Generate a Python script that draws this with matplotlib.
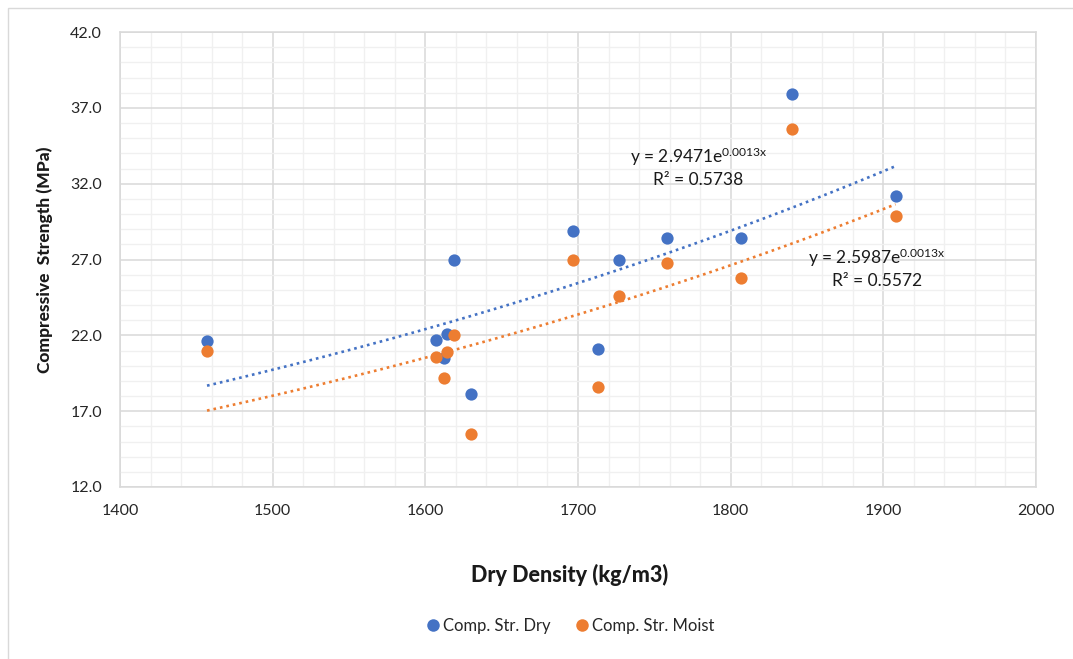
import numpy as np
import matplotlib
matplotlib.use("Agg")
import matplotlib.pyplot as plt
from matplotlib.lines import Line2D
from matplotlib.patches import Rectangle
from matplotlib.ticker import MultipleLocator, FixedLocator

plt.rcParams['font.family'] = ['Lato', 'DejaVu Sans']
plt.rcParams['mathtext.fontset'] = 'custom'
plt.rcParams['mathtext.rm'] = 'Lato'
plt.rcParams['mathtext.it'] = 'Lato:italic'

# data
dry_density = [1457, 1607, 1612, 1614, 1619, 1630, 1697, 1713, 1727, 1758, 1807, 1840, 1908]
comp_str_dry = [21.6, 21.7, 20.5, 22.1, 27.0, 18.1, 28.9, 21.1, 27.0, 28.4, 28.4, 37.9, 31.2]
comp_str_moist = [21.0, 20.6, 19.2, 20.9, 22.0, 15.5, 27.0, 18.6, 24.6, 26.8, 25.8, 35.6, 29.9]

series_names = ["Comp. Str. Dry", "Comp. Str. Moist"]
series_colors = ["#4472C4", "#ED7D31"]
trend_labels = ["y = 2.9471e$^{\\mathrm{0.0013x}}$\nR² = 0.5738",
                "y = 2.5987e$^{\\mathrm{0.0013x}}$\nR² = 0.5572"]
label_pos = [(1779, 33.1), (1896, 26.45)]
y_ticks = [12, 17, 22, 27, 32, 37, 42]


def exp_trend(x, y):
    # exponential fit, same as the spreadsheet trendline
    b, ln_a = np.polyfit(x, np.log(y), 1)
    xs = np.linspace(min(x), max(x), 100)
    return xs, np.exp(ln_a) * np.exp(b * xs)


fig = plt.figure(figsize=(10.73, 6.59), dpi=100)
ax = fig.add_axes([120 / 1073, 1 - 487 / 659, (1036 - 120) / 1073, (487 - 32) / 659])

x = np.array(dry_density, dtype=float)
for ys, name, color in zip([comp_str_dry, comp_str_moist], series_names, series_colors):
    ax.scatter(x, ys, s=78, color=color, zorder=4, linewidths=0)
    xs, yt = exp_trend(x, np.array(ys))
    ax.plot(xs, yt, color=color, lw=1.9, linestyle=(0, (1, 1.5)), zorder=3)

for txt, (tx, ty) in zip(trend_labels, label_pos):
    ax.text(tx, ty, txt, ha='center', va='center', multialignment='center',
            fontsize=12.5, color='#1a1a1a', linespacing=1.3, zorder=5)

ax.set_xlim(1400, 2000)
ax.set_ylim(12, 42)
ax.xaxis.set_major_locator(MultipleLocator(100))
ax.xaxis.set_minor_locator(MultipleLocator(20))
ax.yaxis.set_major_locator(FixedLocator(y_ticks))
ax.yaxis.set_minor_locator(MultipleLocator(1))
ax.yaxis.set_major_formatter(plt.FormatStrFormatter('%.1f'))

ax.grid(which='major', color='#D9D9D9', lw=1.1)
ax.grid(which='minor', color='#F0F0F0', lw=1.0)
ax.set_axisbelow(True)
for sp in ax.spines.values():
    sp.set_color('#D9D9D9')
    sp.set_linewidth(1.1)

ax.tick_params(which='both', length=0, labelsize=11.5, labelcolor='#262626')
ax.tick_params(axis='x', pad=12)
ax.tick_params(axis='y', pad=13)

fig.text(0.5305, 1 - 575 / 659, "Dry Density (kg/m3)", ha='center', va='center',
         fontsize=15.5, fontweight='black', color='#1a1a1a')
fig.text(45 / 1073, 1 - 260 / 659, "Compressive  Strength (MPa)", ha='center', va='center',
         rotation=90, fontsize=12.5, fontweight='black', color='#1a1a1a')

handles = [Line2D([], [], marker='o', ls='none', markersize=9, color=c,
                  markeredgewidth=0) for c in series_colors]
fig.legend(handles, series_names, loc='center', bbox_to_anchor=(0.53, 1 - 626 / 659),
           ncol=2, frameon=False, fontsize=12, handletextpad=0.0, handlelength=1.2,
           columnspacing=1.3, labelcolor='#262626')

# outer chart border (only top/left visible in the reference)
fig.patches.append(Rectangle((8 / 1073, -0.1), 1.2, 1.1 - 8 / 659,
                             transform=fig.transFigure, fill=False,
                             edgecolor='#D9D9D9', lw=1.0))

fig.savefig("out.png", dpi=100)
